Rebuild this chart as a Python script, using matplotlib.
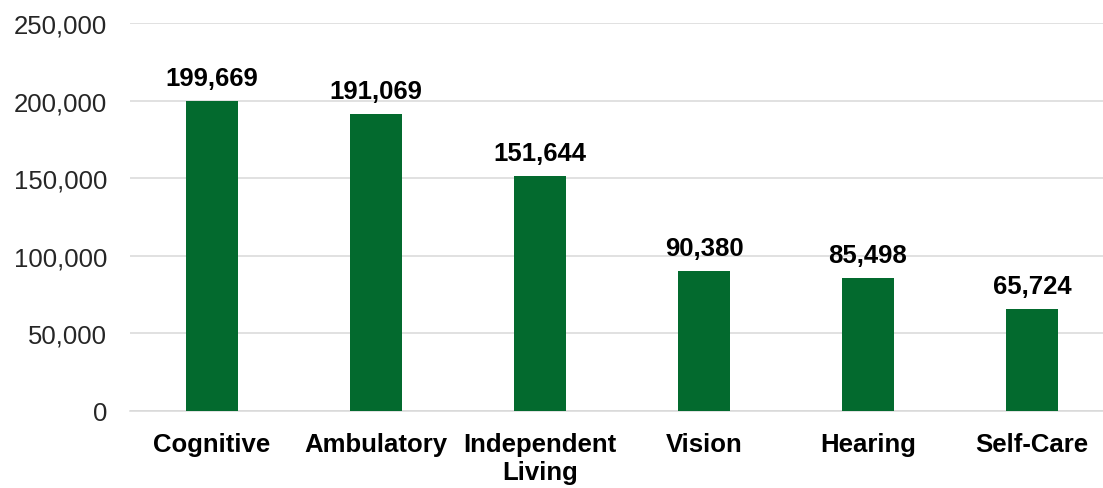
import matplotlib.pyplot as plt
from matplotlib.ticker import FuncFormatter

plt.rcParams['font.family'] = ['Liberation Sans', 'DejaVu Sans']

categories = ['Cognitive', 'Ambulatory', 'Independent\nLiving', 'Vision', 'Hearing', 'Self-Care']
counts = [199669, 191069, 151644, 90380, 85498, 65724]
yticks = [0, 50000, 100000, 150000, 200000, 250000]

bar_color = '#036a2e'
grid_color = '#d9d9d9'

W, H = 1103, 489
fig = plt.figure(figsize=(W / 100, H / 100), dpi=100)
ax = fig.add_axes([130 / W, (H - 412) / H, (W - 130) / W, (412 - 24) / H])

x = range(len(categories))
bars = ax.bar(x, counts, width=0.32, color=bar_color, zorder=3)

for xi, v in zip(x, counts):
    ax.annotate(f'{v:,}', (xi, v), xytext=(0, 11.5), textcoords='offset points',
                ha='center', va='baseline', fontsize=18.5, fontweight='bold')

ax.set_xlim(-0.5, 5.433)
ax.set_ylim(0, 250000)
ax.set_yticks(yticks)
ax.yaxis.set_major_formatter(FuncFormatter(lambda v, p: f'{int(v):,}'))
ax.set_xticks(list(x))
ax.set_xticklabels(categories, fontweight='bold', fontsize=18.5, linespacing=1.22)

ax.tick_params(axis='y', length=0, pad=16.5, labelsize=18.5, labelcolor='#262626')
ax.tick_params(axis='x', length=0, pad=15)

ax.grid(axis='y', color=grid_color, linewidth=1.1, zorder=0)
for s in ['top', 'right', 'left']:
    ax.spines[s].set_visible(False)
ax.spines['bottom'].set_color(grid_color)
ax.spines['bottom'].set_linewidth(1.1)

fig.savefig('out.png', dpi=100)
